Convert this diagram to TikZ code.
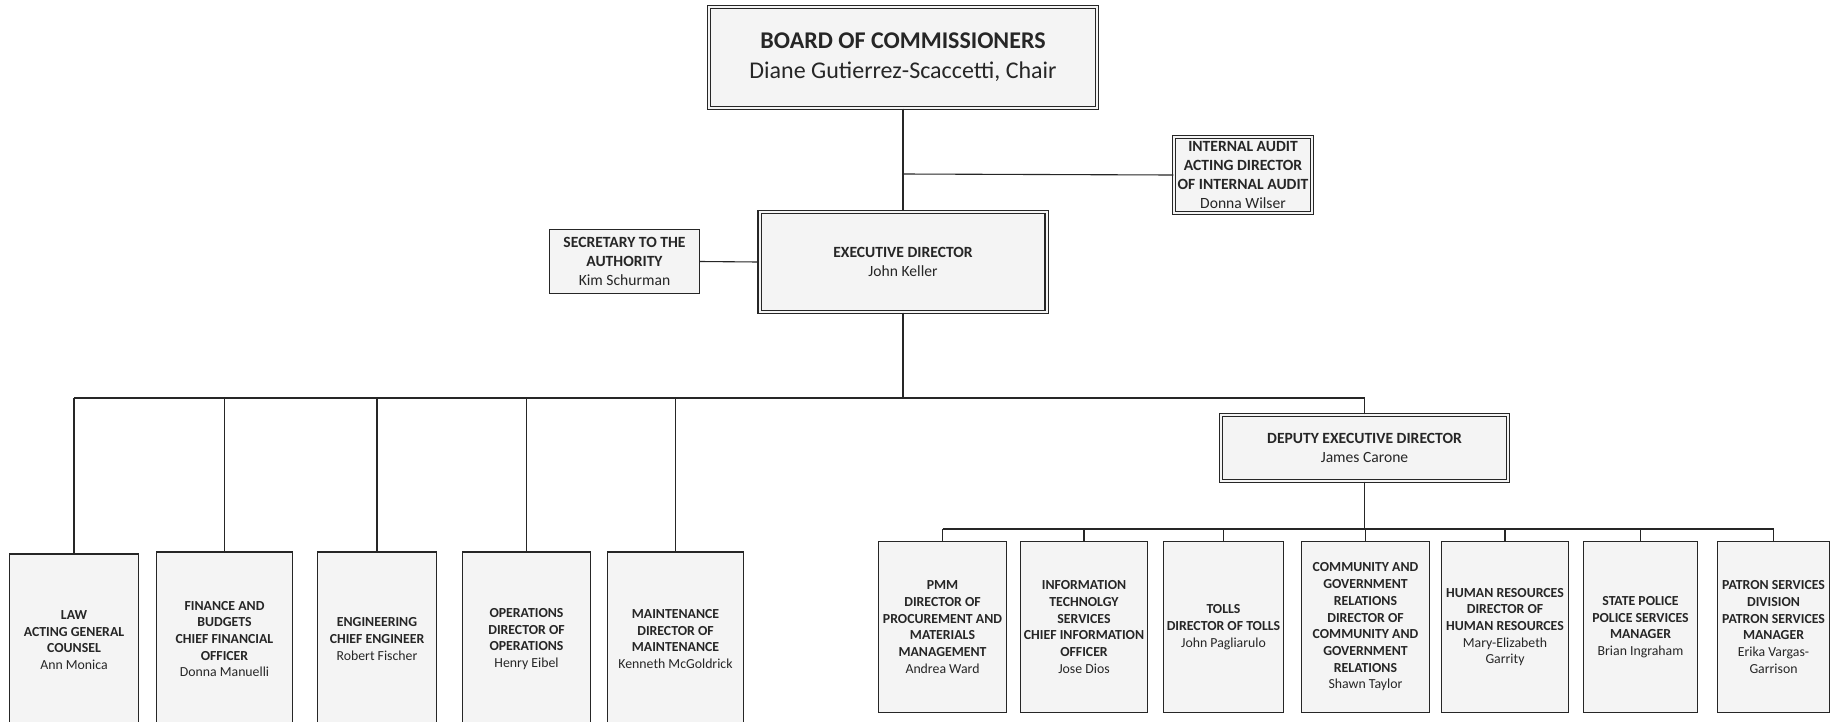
\documentclass[tikz,border=0pt]{standalone}
\usepackage{fontspec}
\setmainfont{Carlito}
\definecolor{boxfill}{RGB}{244,244,244}
\definecolor{ink}{RGB}{38,38,38}
\newcommand{\hb}[1]{\textbf{#1}}
\begin{document}
\begin{tikzpicture}[x=1pt,y=-1pt,
  box/.style={draw=ink, fill=boxfill, line width=1.1pt, inner sep=0pt, align=center, text=ink},
  dbox/.style={box, line width=1.05pt, double=boxfill, double distance=2pt},
  small/.style={font=\fontsize{13.8}{16.7}\selectfont},
  mid/.style={font=\fontsize{15.6}{19.2}\selectfont},
  big/.style={font=\fontsize{24}{30}\selectfont},
  conn/.style={draw=ink, line width=1.1pt},
  busline/.style={draw=ink, line width=1.8pt}]
\clip (0,0) rectangle (1847,721);
\fill[white] (0,0) rectangle (1847,721);

% top level
\node[dbox, big, minimum width=388pt, minimum height=101pt] (board) at (903,57.5)
  {\hb{BOARD OF COMMISSIONERS}\\Diane Gutierrez-Scaccetti, Chair};
\node[dbox, mid, minimum width=287pt, minimum height=100pt] (exec) at (903,262)
  {\hb{EXECUTIVE DIRECTOR}\\John Keller};
\node[dbox, mid, minimum width=138pt, minimum height=76pt] (ia) at (1243,175)
  {\hb{INTERNAL AUDIT}\\\hb{ACTING DIRECTOR}\\\hb{OF INTERNAL AUDIT}\\Donna Wilser};
\node[box, mid, minimum width=150pt, minimum height=64pt] (sec) at (624.5,261.5)
  {\hb{SECRETARY TO THE}\\\hb{AUTHORITY}\\Kim Schurman};
\node[dbox, mid, minimum width=287pt, minimum height=66pt] (dep) at (1364.5,448)
  {\hb{DEPUTY EXECUTIVE DIRECTOR}\\James Carone};

% left children
\node[box, small, minimum width=129pt, minimum height=172pt] (law) at (74,640)
  {\hb{LAW}\\\hb{ACTING GENERAL}\\\hb{COUNSEL}\\Ann Monica};
\node[box, small, minimum width=136pt, minimum height=174pt] (fin) at (224.5,639)
  {\hb{FINANCE AND}\\\hb{BUDGETS}\\\hb{CHIEF FINANCIAL}\\\hb{OFFICER}\\Donna Manuelli};
\node[box, small, minimum width=119pt, minimum height=174pt] (eng) at (377,639)
  {\hb{ENGINEERING}\\\hb{CHIEF ENGINEER}\\Robert Fischer};
\node[box, small, minimum width=128pt, minimum height=174pt] (ops) at (526.5,639)
  {\hb{OPERATIONS}\\\hb{DIRECTOR OF}\\\hb{OPERATIONS}\\Henry Eibel};
\node[box, small, minimum width=136pt, minimum height=174pt] (mnt) at (675.5,639)
  {\hb{MAINTENANCE}\\\hb{DIRECTOR OF}\\\hb{MAINTENANCE}\\Kenneth McGoldrick};

% right children
\node[box, small, minimum width=128pt, minimum height=171pt] (pmm) at (942.5,627)
  {\hb{PMM}\\\hb{DIRECTOR OF}\\\hb{PROCUREMENT AND}\\\hb{MATERIALS}\\\hb{MANAGEMENT}\\Andrea Ward};
\node[box, small, minimum width=127pt, minimum height=171pt] (its) at (1084,627)
  {\hb{INFORMATION}\\\hb{TECHNOLGY}\\\hb{SERVICES}\\\hb{CHIEF INFORMATION}\\\hb{OFFICER}\\Jose Dios};
\node[box, small, minimum width=120pt, minimum height=171pt] (tolls) at (1223.5,627)
  {\hb{TOLLS}\\\hb{DIRECTOR OF TOLLS}\\John Pagliarulo};
\node[box, small, minimum width=128pt, minimum height=171pt] (comm) at (1365.5,627)
  {\hb{COMMUNITY AND}\\\hb{GOVERNMENT}\\\hb{RELATIONS}\\\hb{DIRECTOR OF}\\\hb{COMMUNITY AND}\\\hb{GOVERNMENT}\\\hb{RELATIONS}\\Shawn Taylor};
\node[box, small, minimum width=127pt, minimum height=171pt] (hr) at (1505,627)
  {\hb{HUMAN RESOURCES}\\\hb{DIRECTOR OF}\\\hb{HUMAN RESOURCES}\\Mary-Elizabeth\\Garrity};
\node[box, small, minimum width=114pt, minimum height=171pt] (sp) at (1640.5,627)
  {\hb{STATE POLICE}\\\hb{POLICE SERVICES}\\\hb{MANAGER}\\Brian Ingraham};
\node[box, small, minimum width=112pt, minimum height=171pt] (pat) at (1773.5,627)
  {\hb{PATRON SERVICES}\\\hb{DIVISION}\\\hb{PATRON SERVICES}\\\hb{MANAGER}\\Erika Vargas-\\Garrison};

% connectors
\coordinate (bus) at (903,398);
\coordinate (sub) at (1364.5,529);
\coordinate (iaj) at (903,174);

\draw[conn] (board.south) -- (exec.north);
\draw[conn] (ia.west) -- (iaj);
\draw[conn] (sec.east) -- (exec.west);

\draw[busline] (exec.south) -- (bus);
\draw[busline] (law.north |- bus) -- (dep.north |- bus);
\foreach \n in {law,fin,eng,ops,mnt}
  \draw[conn] (\n.north) -- (\n.north |- bus);
\draw[conn] (dep.north) -- (dep.north |- bus);

\draw[busline] (dep.south) -- (sub);
\draw[busline] (pmm.north |- sub) -- (pat.north |- sub);
\foreach \n in {pmm,its,tolls,comm,hr,sp,pat}
  \draw[conn] (\n.north) -- (\n.north |- sub);
\end{tikzpicture}
\end{document}
